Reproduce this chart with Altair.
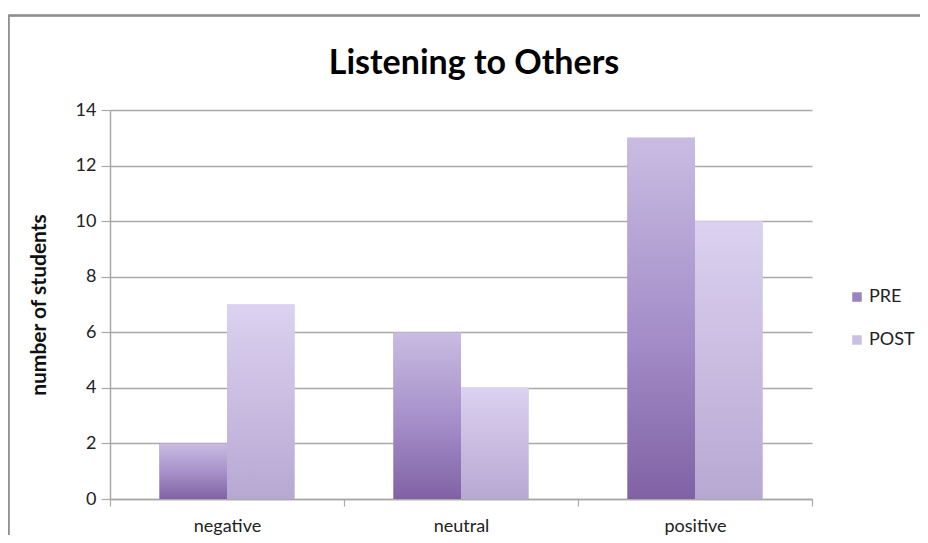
import altair as alt
import pandas as pd

categories = ["negative", "neutral", "positive"]
series = ["PRE", "POST"]
pre_values = [2, 6, 13]
post_values = [7, 4, 10]
y_ticks = [0, 2, 4, 6, 8, 10, 12, 14]

rows = []
for c, v in zip(categories, pre_values):
    rows.append({"category": c, "series": "PRE", "value": v})
for c, v in zip(categories, post_values):
    rows.append({"category": c, "series": "POST", "value": v})
df = pd.DataFrame(rows)

FONT = "Lato"
GRID = "#a9a9a9"

grad_pre = alt.LinearGradient(
    gradient="linear",
    stops=[alt.GradientStop(color="#c9bce2", offset=0),
           alt.GradientStop(color="#a48dc8", offset=0.55),
           alt.GradientStop(color="#8062a4", offset=1)],
    x1=0, x2=0, y1=0, y2=1)
grad_post = alt.LinearGradient(
    gradient="linear",
    stops=[alt.GradientStop(color="#dcd1f0", offset=0),
           alt.GradientStop(color="#b7a8d2", offset=1)],
    x1=0, x2=0, y1=0, y2=1)

x_enc = alt.X("category:N", sort=categories,
              scale=alt.Scale(paddingInner=0, paddingOuter=0),
              axis=alt.Axis(title=None, labelAngle=0, tickBand="extent",
                            tickSize=7, tickColor=GRID, domainColor=GRID,
                            domainWidth=1.5, tickWidth=1.2,
                            labelFont=FONT, labelFontSize=18, labelColor="#222",
                            labelPadding=11, grid=False))
xo_enc = alt.XOffset("series:N", sort=series,
                     scale=alt.Scale(domain=series, paddingInner=0, paddingOuter=0.733))
y_enc = alt.Y("value:Q",
              scale=alt.Scale(domain=[0, 14], nice=False),
              axis=alt.Axis(values=y_ticks, title="number of students",
                            titleFont=FONT, titleFontSize=21, titleFontWeight="bold",
                            titleColor="#111", titlePadding=26,
                            labelFont=FONT, labelFontSize=18, labelColor="#222",
                            labelPadding=5, tickSize=9, tickColor=GRID,
                            tickWidth=1.2, domainColor=GRID, domainWidth=1.5,
                            grid=True, gridColor=GRID, gridWidth=1.4))

base = alt.Chart(df).mark_bar().encode(
    x=x_enc, xOffset=xo_enc, y=y_enc,
    color=alt.Color("series:N", sort=series,
                    scale=alt.Scale(domain=series, range=["#9b82c0", "#cbbfe3"]),
                    legend=alt.Legend(title=None, orient="none", legendX=738, legendY=178,
                                      symbolType="square", symbolSize=90,
                                      symbolStrokeWidth=0,
                                      labelFont=FONT, labelFontSize=18,
                                      labelColor="#222", rowPadding=25,
                                      labelOffset=3)))

pre_layer = alt.Chart(df).transform_filter(alt.datum.series == "PRE").mark_bar(
    color=grad_pre).encode(x=x_enc, xOffset=xo_enc, y=y_enc)
post_layer = alt.Chart(df).transform_filter(alt.datum.series == "POST").mark_bar(
    color=grad_post).encode(x=x_enc, xOffset=xo_enc, y=y_enc)

border_top = alt.Chart(df).mark_rule(color="#8f8f8f", strokeWidth=1.5).encode(
    x=alt.value(-101.5), x2=alt.value(820), y=alt.value(-94.5))
border_left = alt.Chart(df).mark_rule(color="#8f8f8f", strokeWidth=1.5).encode(
    x=alt.value(-101.5), y=alt.value(-94.5), y2=alt.value(440))

chart = alt.layer(border_top, border_left, base, pre_layer, post_layer).properties(
    width=702, height=389,
    background="white",
    title=alt.Title("Listening to Others", font=FONT, fontSize=34, fontWeight="bold",
                    color="#000", anchor="middle", baseline="alphabetic",
                    offset=-93, dx=13),
    autosize=alt.AutoSizeParams(type="none"),
    padding={"left": 102, "top": 102, "right": 108, "bottom": 36},
).configure_view(stroke=None)

chart.save("out.html", embed_options={"renderer": "svg", "actions": False})
